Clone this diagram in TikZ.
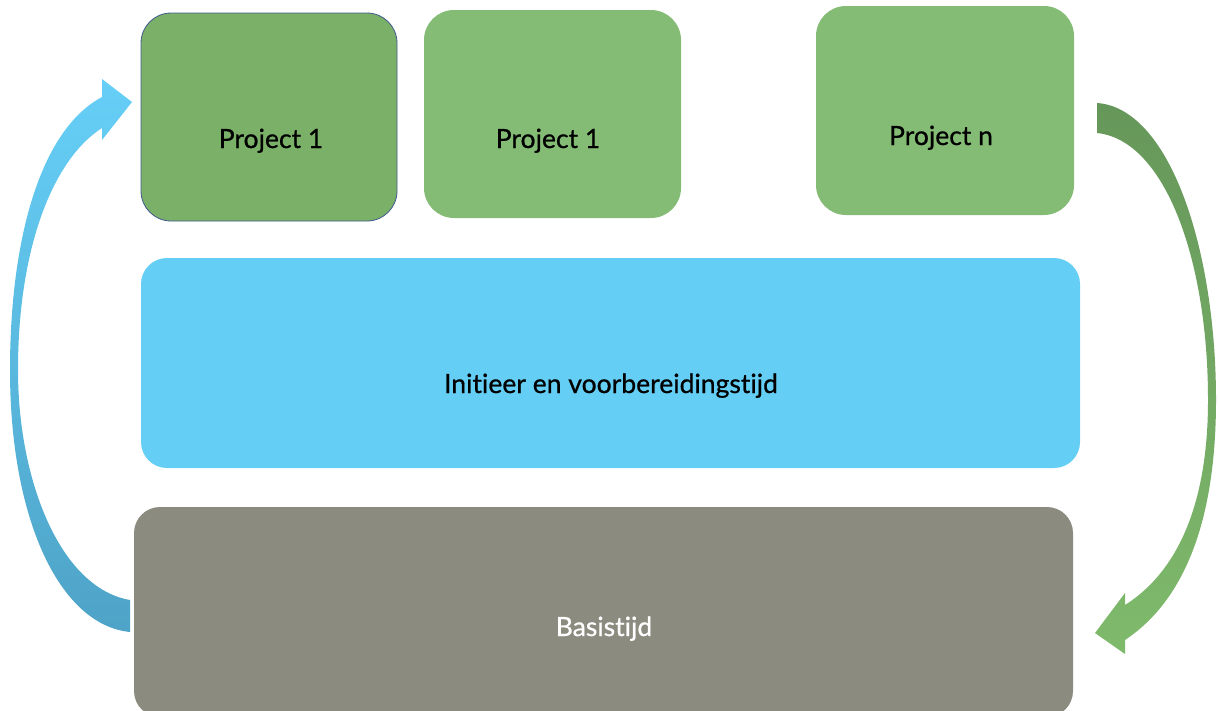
\documentclass[tikz,border=0pt]{standalone}
\usepackage{fontspec}
\setmainfont{Lato}[Ligatures=NoCommon]
\newfontfamily\lblfont{Lato}[Ligatures=NoCommon, FakeBold=0.7]
\definecolor{projdark}{HTML}{7AB068}
\definecolor{projgreen}{HTML}{84BC75}
\definecolor{projborder}{HTML}{3F5A8C}
\definecolor{initblue}{HTML}{64CEF5}
\definecolor{basisgray}{HTML}{8B8B80}
\definecolor{arrowblueL}{HTML}{66CFF7}
\definecolor{arrowblueD}{HTML}{4EA3C7}
\definecolor{arrowgreenD}{HTML}{66975A}
\definecolor{arrowgreenL}{HTML}{7FBA6C}
\tikzset{
  box/.style={rectangle, rounded corners=30pt, inner sep=0pt},
  bigbox/.style={rectangle, rounded corners=26pt, inner sep=0pt},
  lbl/.style={font=\lblfont\fontsize{26.5}{30}\selectfont, inner sep=0pt, anchor=base}
}
\begin{document}
\begin{tikzpicture}[x=1pt,y=-1pt]
\useasboundingbox (0,0) rectangle (1220,710);
\clip (0,0) rectangle (1220,710);
% boxes
\node[box, fill=projdark, draw=projborder, line width=0.8pt, minimum width=256pt, minimum height=208pt] (p1a) at (269,117) {};
\node[box, fill=projgreen, minimum width=257pt, minimum height=208pt] (p1b) at (552.5,114) {};
\node[box, fill=projgreen, minimum width=258pt, minimum height=209pt] (pn) at (945,110.5) {};
\node[bigbox, fill=initblue, minimum width=939pt, minimum height=210pt] (init) at (610.5,363) {};
\node[bigbox, fill=basisgray, minimum width=939pt, minimum height=210pt] (basis) at (603.5,612) {};
% labels
\node[lbl] (t1) at (271,148) {Project 1};
\node[lbl] (t2) at (548,148) {Project 1};
\node[lbl] (tn) at (941,145) {Project n};
\node[lbl] (ti) at (611,393) {Initieer en voorbereidingstijd};
\node[lbl, text=white] (tb) at (604,636) {Basistijd};
% left curved arrow (Basistijd -> Project 1)
\path[top color=arrowblueL, middle color=arrowblueL, bottom color=arrowblueD]
  (130,600) .. controls (60,588) and (18,480) .. (18,370)
  .. controls (18,250) and (52,160) .. (102,128)
  -- (102,140) -- (132,102) -- (102,79) -- (102,97)
  .. controls (40,130) and (10,240) .. (10,370)
  .. controls (10,520) and (60,625) .. (130,632) -- cycle;
% right curved arrow (Project n -> Basistijd)
\path[top color=arrowgreenD, middle color=arrowgreenL, bottom color=arrowgreenL]
  (1097,103) .. controls (1170,108) and (1216,250) .. (1216,400)
  .. controls (1216,520) and (1185,600) .. (1125,640)
  -- (1125,654) -- (1095,633) -- (1125,593) -- (1125,605)
  .. controls (1180,570) and (1208,500) .. (1208,400)
  .. controls (1208,260) and (1165,140) .. (1097,133) -- cycle;
\end{tikzpicture}
\end{document}
